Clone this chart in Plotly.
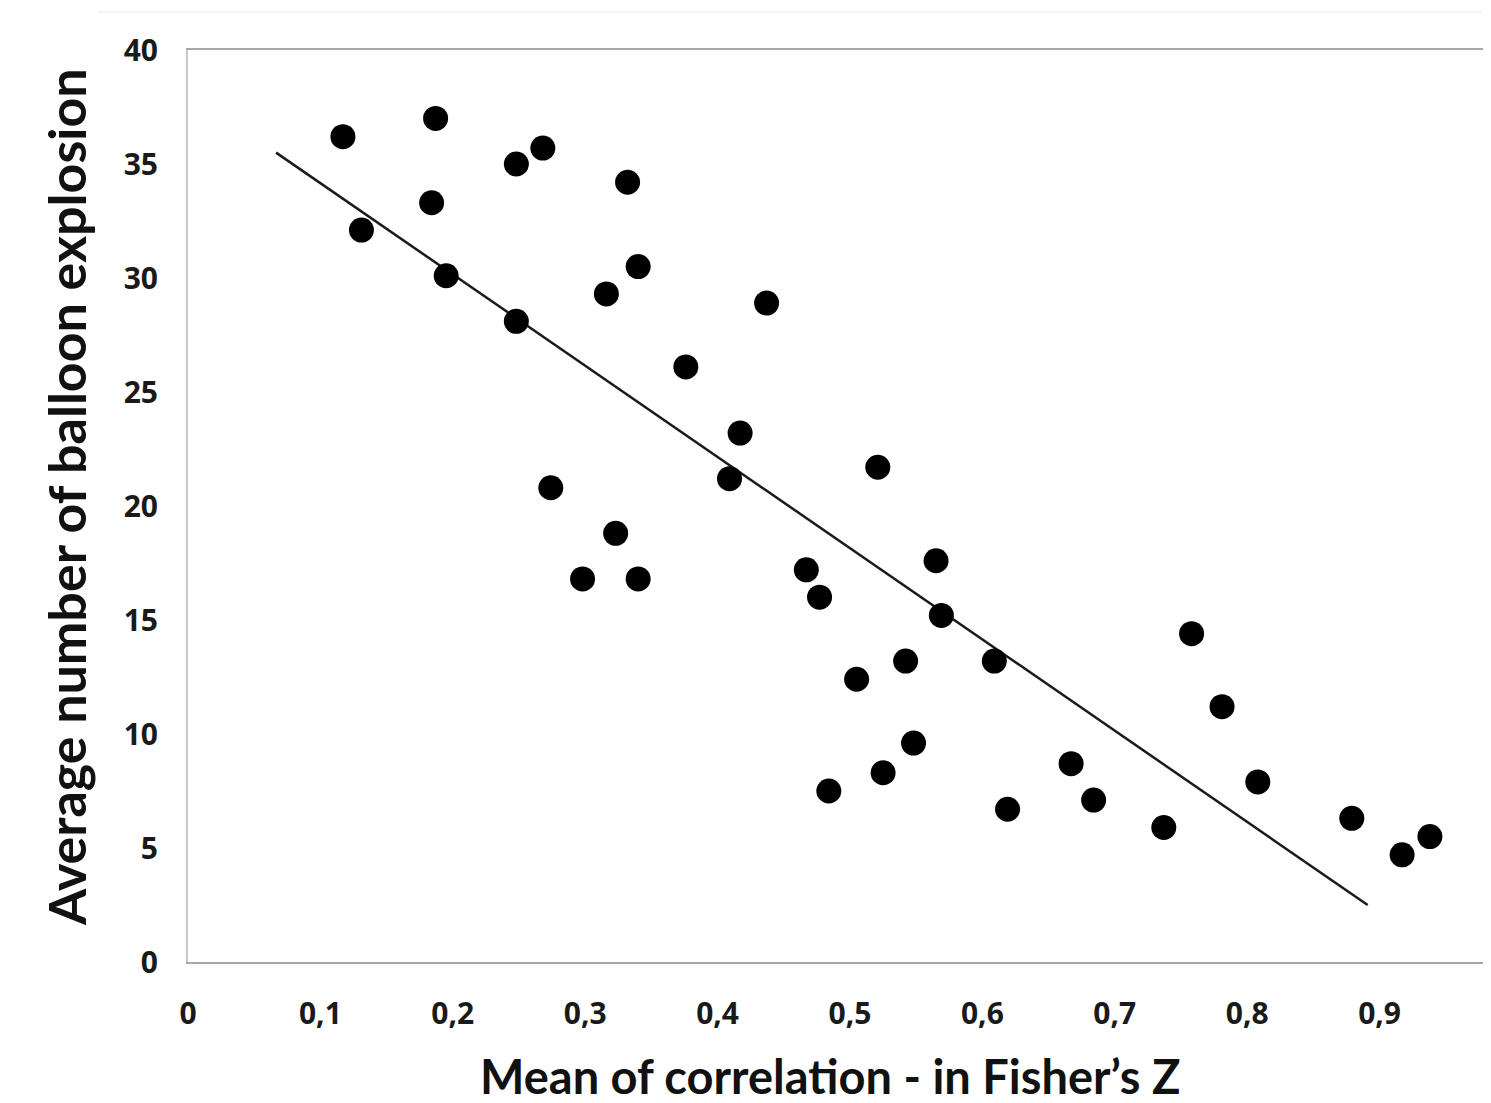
import plotly.graph_objects as go

# Data (Fisher's Z mean correlation vs. average balloon explosions)
fisher_z = [0.117, 0.131, 0.187, 0.184, 0.195, 0.248, 0.268, 0.248, 0.274, 0.298,
            0.316, 0.323, 0.332, 0.340, 0.340, 0.376, 0.417, 0.409, 0.437, 0.467,
            0.477, 0.484, 0.505, 0.521, 0.525, 0.542, 0.548, 0.565, 0.569, 0.609,
            0.619, 0.667, 0.684, 0.737, 0.758, 0.781, 0.808, 0.879, 0.917, 0.938]
explosions = [36.2, 32.1, 37.0, 33.3, 30.1, 35.0, 35.7, 28.1, 20.8, 16.8,
              29.3, 18.8, 34.2, 30.5, 16.8, 26.1, 23.2, 21.2, 28.9, 17.2,
              16.0, 7.5, 12.4, 21.7, 8.3, 13.2, 9.6, 17.6, 15.2, 13.2,
              6.7, 8.7, 7.1, 5.9, 14.4, 11.2, 7.9, 6.3, 4.7, 5.5]

# Linear trend line end points
trend_x = [0.0665, 0.891]
trend_y = [35.5, 2.5]

x_ticks = [0, 0.1, 0.2, 0.3, 0.4, 0.5, 0.6, 0.7, 0.8, 0.9]
x_tick_text = ["0", "0,1", "0,2", "0,3", "0,4", "0,5", "0,6", "0,7", "0,8", "0,9"]
y_ticks = [0, 5, 10, 15, 20, 25, 30, 35, 40]

x_title = "Mean of correlation - in Fisher’s Z"
y_title = "Average number of balloon explosion"

PLOT_W = 1325  # plot area width in px (extends past the visible right edge, as in the cropped original)
PX_PER_UNIT = 1324

fig = go.Figure()
fig.add_trace(go.Scatter(
    x=trend_x, y=trend_y, mode="lines",
    line=dict(color="#1a1a1a", width=2.5), showlegend=False, hoverinfo="skip"))
fig.add_trace(go.Scatter(
    x=fisher_z, y=explosions, mode="markers",
    marker=dict(color="black", size=25, symbol="circle", line=dict(width=0)),
    showlegend=False))

tick_font = dict(family="Open Sans", size=30, color="#1a1a1a", weight="bold")

fig.update_layout(
    width=180 + PLOT_W, height=1095,
    margin=dict(l=180, r=0, t=42, b=141),
    paper_bgcolor="white", plot_bgcolor="white",
    font=dict(family="Open Sans", color="#1a1a1a"),
    xaxis=dict(
        range=[0, PLOT_W / PX_PER_UNIT], tickmode="array", tickvals=x_ticks, ticktext=x_tick_text,
        showgrid=False, zeroline=False, showline=True, linecolor="#a8a8a8", linewidth=2,
        mirror=True, ticks="", tickfont=tick_font, ticklabelstandoff=24),
    yaxis=dict(
        range=[0, 40], tickmode="array", tickvals=y_ticks,
        showgrid=False, zeroline=False, showline=True, linecolor="#c8c8c8", linewidth=2,
        ticks="", tickfont=tick_font, ticklabelstandoff=22),
    shapes=[
        dict(type="line", xref="paper", yref="paper",
             x0=-(188 - 98) / PLOT_W, x1=1.0, y0=(962 - 12) / 912, y1=(962 - 12) / 912,
             line=dict(color="#ececec", width=1)),
    ],
    annotations=[
        dict(text="<b>" + x_title + "</b>", xref="paper", yref="paper",
             x=(830 - 188) / PLOT_W, y=-(1076 - 962) / 912, xanchor="center", yanchor="middle",
             showarrow=False, font=dict(family="Lato", size=47, color="#111111")),
        dict(text="<b>" + y_title + "</b>", xref="paper", yref="paper",
             x=-(188 - 66) / PLOT_W, y=(962 - 497) / 912, xanchor="center", yanchor="middle",
             textangle=-90, showarrow=False, font=dict(family="Lato", size=52, color="#111111")),
    ],
)

fig.write_html("out.html")
